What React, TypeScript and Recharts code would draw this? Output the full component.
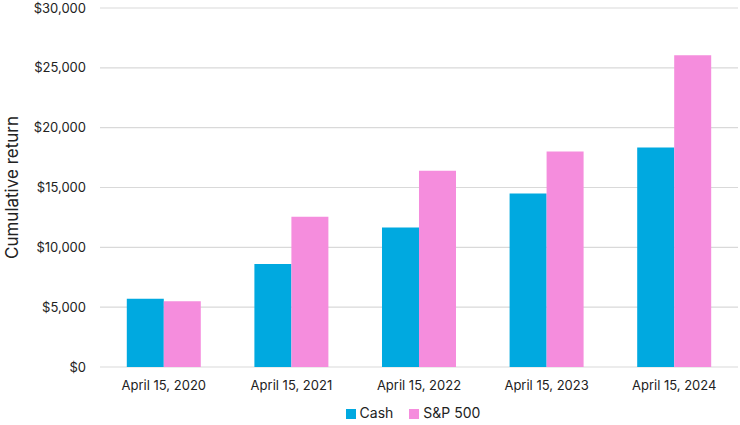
import React from "react";
import { BarChart, Bar, XAxis, YAxis, CartesianGrid, Legend } from "recharts";

const categories = ["April 15, 2020", "April 15, 2021", "April 15, 2022", "April 15, 2023", "April 15, 2024"];
const cashValues = [5700, 8600, 11650, 14500, 18350];
const spValues = [5500, 12550, 16400, 18000, 26050];
const yTicks = [0, 5000, 10000, 15000, 20000, 25000, 30000];

const data = categories.map((c, i) => ({ date: c, cash: cashValues[i], sp: spValues[i] }));

const fmt = (v: number) => "$" + v.toLocaleString("en-US");
const FONT = "Inter, 'Open Sans', sans-serif";

export default function App() {
  return (
    <div style={{ position: "absolute", left: 0, top: 0, width: 740, height: 425, background: "#fff" }}>
      <BarChart
        width={740}
        height={425}
        data={data}
        margin={{ top: 8, right: 2, bottom: 0, left: 0 }}
        barCategoryGap="21%"
        barGap={0}
      >
        <CartesianGrid vertical={false} stroke="#d9d9d9" strokeWidth={1.2} />
        <XAxis
          dataKey="date"
          axisLine={false}
          tickLine={false}
          tick={{ fill: "#222", fontSize: 13, fontFamily: FONT }}
          tickMargin={8}
          height={30}
        />
        <YAxis
          domain={[0, 30000]}
          ticks={yTicks}
          tickFormatter={fmt}
          axisLine={false}
          tickLine={false}
          tickMargin={8}
          width={100}
          tick={{ fill: "#222", fontSize: 13, fontFamily: FONT }}
          label={{
            value: "Cumulative  return",
            angle: -90,
            position: "insideLeft",
            offset: 0,
            dx: 12,
            style: { fill: "#222", fontSize: 17, fontFamily: FONT, textAnchor: "middle" },
          }}
        />
        <Legend
          verticalAlign="bottom"
          iconType="square"
          iconSize={10}
          height={28}
          wrapperStyle={{ fontFamily: FONT, fontSize: 14, color: "#222", top: 404, bottom: "auto", left: 52 }}
          formatter={(v: string) => <span style={{ color: "#222", marginRight: 6 }}>{v}</span>}
        />
        <Bar dataKey="cash" name="Cash" fill="#00a9e0" isAnimationActive={false} />
        <Bar dataKey="sp" name="S&P 500" fill="#f58ddd" isAnimationActive={false} />
      </BarChart>
    </div>
  );
}
